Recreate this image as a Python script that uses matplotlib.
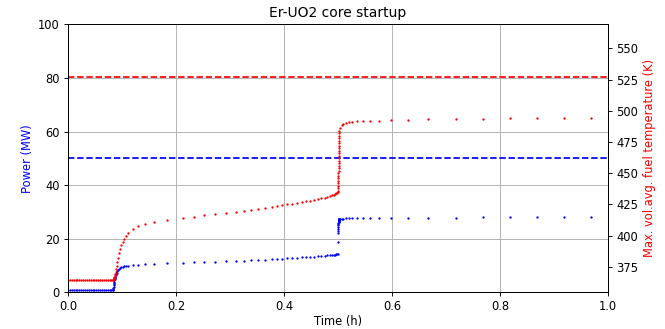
import matplotlib
matplotlib.use("Agg")
import matplotlib.pyplot as plt

# time points (h)
time_h = [
    0.0000, 0.0035, 0.0070, 0.0105, 0.0140, 0.0175, 0.0210, 0.0245, 0.0280, 0.0315,
    0.0350, 0.0385, 0.0420, 0.0455, 0.0490, 0.0525, 0.0560, 0.0595, 0.0630, 0.0665,
    0.0700, 0.0735, 0.0770, 0.0805, 0.0833,
    0.0834, 0.0837, 0.0840, 0.0843, 0.0846, 0.0849, 0.0852, 0.0855, 0.0858, 0.0862,
    0.0867, 0.0873, 0.0880, 0.0889, 0.0900, 0.0913, 0.0928, 0.0944, 0.0965, 0.0987,
    0.1012, 0.1037, 0.1075, 0.1117, 0.1210, 0.1300, 0.1426, 0.1600, 0.1833, 0.2130,
    0.2328, 0.2524, 0.2722, 0.2920, 0.3117, 0.3254, 0.3389, 0.3524, 0.3654, 0.3772,
    0.3876, 0.3969, 0.4061, 0.4154, 0.4246, 0.4330, 0.4410, 0.4490, 0.4560, 0.4630,
    0.4690, 0.4750, 0.4800, 0.4850, 0.4890, 0.4925, 0.4950, 0.4970, 0.4985, 0.4995,
    0.5001, 0.5002, 0.5003, 0.5004, 0.5005, 0.5006, 0.5007, 0.5008, 0.5009, 0.5010,
    0.5011, 0.5012, 0.5013, 0.5014, 0.5015, 0.5016, 0.5017, 0.5018, 0.5019, 0.5020,
    0.5021, 0.5022, 0.5023, 0.5024, 0.5025,
    0.5035, 0.5065, 0.5100, 0.5145, 0.5200, 0.5265, 0.5345, 0.5470, 0.5590, 0.5765,
    0.5990, 0.6296, 0.6670, 0.7180, 0.7680, 0.8180, 0.8680, 0.9180, 0.9680,
]

power_mw = [
    0.7, 0.7, 0.7, 0.7, 0.7, 0.7, 0.7, 0.7, 0.7, 0.7,
    0.7, 0.7, 0.7, 0.7, 0.7, 0.7, 0.7, 0.7, 0.7, 0.7,
    0.7, 0.7, 0.7, 0.7, 0.7,
    0.8, 1.2, 1.6, 2.1, 2.6, 3.1, 3.6, 4.0, 4.4, 4.8,
    5.3, 5.8, 6.3, 6.8, 7.3, 7.8, 8.2, 8.6, 9.0, 9.3,
    9.55, 9.7, 9.85, 9.95, 10.15, 10.3, 10.45, 10.6, 10.8, 11.0,
    11.15, 11.3, 11.45, 11.6, 11.75, 11.85, 11.95, 12.05, 12.2, 12.3,
    12.45, 12.55, 12.7, 12.8, 12.9, 13.0, 13.1, 13.2, 13.3, 13.45,
    13.55, 13.65, 13.75, 13.85, 13.95, 14.05, 14.1, 14.2, 14.25, 14.3,
    18.9, 22.0, 23.0, 23.8, 24.5, 25.0, 25.4, 25.8, 26.1, 26.3,
    26.5, 26.7, 26.8, 26.9, 27.0, 27.05, 27.1, 27.15, 27.2, 27.2,
    27.2, 27.25, 27.25, 27.3, 27.3,
    27.35, 27.4, 27.5, 27.55, 27.6, 27.65, 27.7, 27.7, 27.75, 27.8,
    27.8, 27.85, 27.9, 27.9, 27.95, 27.95, 28.0, 28.0, 28.0,
]

temp_k = [
    364.5, 364.5, 364.5, 364.5, 364.5, 364.5, 364.5, 364.5, 364.5, 364.5,
    364.5, 364.5, 364.5, 364.5, 364.5, 364.5, 364.5, 364.5, 364.5, 364.5,
    364.5, 364.5, 364.5, 364.5, 364.5,
    364.5, 364.6, 364.7, 364.9, 365.1, 365.4, 365.7, 366.1, 366.5, 367.1,
    368.0, 369.2, 370.7, 372.8, 375.5, 378.7, 382.2, 385.7, 389.0, 392.0,
    394.8, 397.0, 399.8, 402.0, 405.2, 407.6, 409.4, 411.0, 412.4, 413.8,
    415.0, 416.1, 417.1, 418.1, 419.0, 419.8, 420.5, 421.3, 422.1, 422.9,
    423.7, 424.4, 425.0, 425.6, 426.2, 426.8, 427.4, 428.0, 428.6, 429.2,
    429.8, 430.4, 430.9, 431.5, 432.1, 432.7, 433.2, 433.7, 434.2, 434.6,
    436.0, 438.0, 440.0, 442.0, 444.0, 446.0, 448.0, 450.0, 452.0, 454.0,
    456.0, 458.0, 460.0, 462.0, 464.0, 466.0, 468.0, 470.0, 472.0, 474.0,
    476.0, 478.0, 480.0, 482.0, 483.5,
    486.5, 488.4, 489.7, 490.5, 491.0, 491.3, 491.5, 491.7, 491.9, 492.1,
    492.4, 492.7, 493.0, 493.3, 493.6, 493.8, 494.0, 494.1, 494.2,
]

power_limit_mw = 50
temp_limit_k = 527

# drawn at a lower dpi so the default font sizes come out like the reference
dpi = 83.125
fig, ax = plt.subplots(figsize=(665 / dpi, 329 / dpi), dpi=dpi)
fig.subplots_adjust(left=0.1023, right=0.9143, bottom=0.1116, top=0.926)

ax.plot(time_h, power_mw, "o", color="b", markersize=2.0, markeredgewidth=0)
ax.axhline(power_limit_mw, color="b", linestyle="--", linewidth=1.5)
ax.set_xlim(0, 1.0)
ax.set_ylim(0, 100)
ax.set_xlabel("Time (h)", labelpad=1)
ax.set_ylabel("Power (MW)", color="b")
ax.grid(True)
ax.set_title("Er-UO2 core startup")

ax2 = ax.twinx()
ax2.plot(time_h, temp_k, "o", color="r", markersize=2.0, markeredgewidth=0)
ax2.axhline(temp_limit_k, color="r", linestyle="--", linewidth=1.5)
ax2.set_ylim(354.5, 569.2)
ax2.set_ylabel("Max. vol.avg. fuel temperature (K)", color="r")

fig.savefig("out.png", dpi=dpi)
